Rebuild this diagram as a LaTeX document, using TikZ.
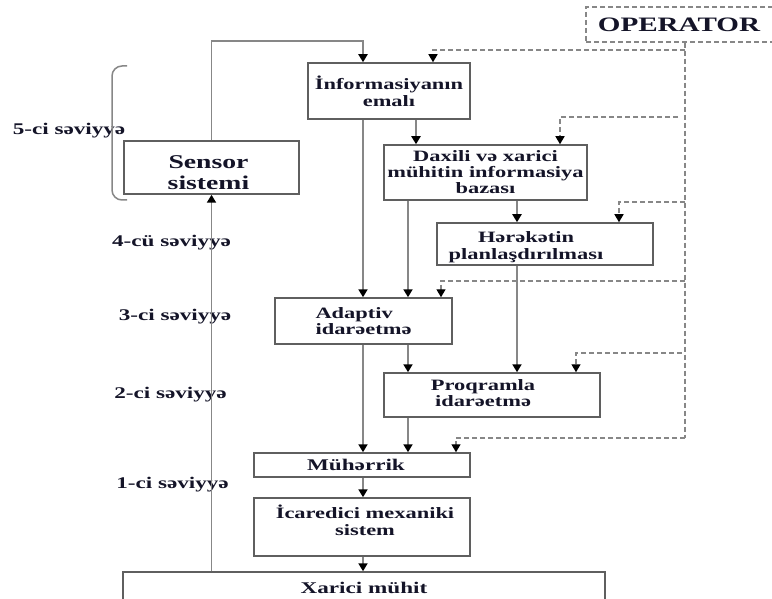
\documentclass[tikz,border=0pt]{standalone}
\usepackage{fontspec}
\setmainfont{Liberation Serif}[FakeStretch=1.42]
\usetikzlibrary{arrows.meta}
\definecolor{ink}{RGB}{20,20,40}
\definecolor{boxc}{RGB}{95,95,95}
\definecolor{linec}{RGB}{135,135,135}
\begin{document}
\begin{tikzpicture}[x=1pt,y=-1pt,
  tf/.style={font=\bfseries\fontsize{15.8}{16.8}\selectfont},
  box/.style={draw=boxc, line width=1.5pt, inner sep=0pt, text=ink, tf, align=center},
  txt/.style={text=ink, tf, align=center, inner sep=0pt},
  lvl/.style={text=ink, font=\bfseries\fontsize{16.3}{17}\selectfont, inner sep=0pt},
  tip/.style={-{Triangle[length=8pt,width=9pt,color=black]}},
  conn/.style={draw=linec, line width=1.8pt, tip},
  dsh/.style={draw=linec, line width=1.4pt, dash pattern=on 5pt off 3pt},
  dsharr/.style={dsh, tip}]
\useasboundingbox (0,0) rectangle (772,599);
\clip (0,0) rectangle (772,599);

% columns / helper coordinates
\coordinate (c363) at (363,0);
\coordinate (c408) at (408,0);
\coordinate (c416) at (416,0);
\coordinate (c517) at (517,0);
\coordinate (c433) at (433,0);
\coordinate (c560) at (560,0);
\coordinate (c619) at (619,0);
\coordinate (c441) at (441,0);
\coordinate (c576) at (576,0);
\coordinate (c456) at (456,0);
\coordinate (c685) at (685,0);
\coordinate (top41) at (0,41);

% boxes
\node[box, draw=linec, line width=1.4pt, dash pattern=on 5pt off 3pt, minimum width=200pt, minimum height=35pt,
  label={[text=ink, inner sep=0pt, font=\bfseries\fontsize{20.5}{22}\selectfont, xshift=-7pt]center:OPERATOR}]
  (operator) at (686,24.5) {};
\node[box, minimum width=162pt, minimum height=56pt] (info) at (389,91) {İnformasiyanın\\emalı};
\node[box, minimum width=175pt, minimum height=53pt,
  label={[txt, font=\bfseries\fontsize{19.5}{20.5}\selectfont, xshift=-3pt, yshift=-5pt]center:{Sensor\\sistemi}}]
  (sensor) at (211.5,167.5) {};
\node[box, minimum width=203pt, minimum height=55pt, font=\bfseries\fontsize{15.8}{16}\selectfont]
  (daxili) at (485.5,172.5) {Daxili və xarici\\mühitin informasiya\\bazası};
\node[box, minimum width=216pt, minimum height=42pt,
  label={[txt, xshift=-19pt, yshift=-3pt]center:{Hərəkətin\\planlaşdırılması}}]
  (herek) at (545,244) {};
\node[box, minimum width=177pt, minimum height=46pt, align=left] (adaptiv) at (363.5,321) {Adaptiv\\idarəetmə};
\node[box, minimum width=216pt, minimum height=44pt,
  label={[txt, xshift=-9pt, yshift=2pt]center:{Proqramla\\idarəetmə}}]
  (proq) at (492,395) {};
\node[box, minimum width=216pt, minimum height=24pt, font=\bfseries\fontsize{16.3}{17}\selectfont]
  (muh) at (362,465) {\hspace*{-12pt}Mühərrik};
\node[box, minimum width=216pt, minimum height=58pt,
  label={[txt, xshift=3pt, yshift=7pt]center:{İcaredici mexaniki\\sistem}}]
  (icar) at (362,527) {};
\node[box, minimum width=482pt, minimum height=32pt, font=\bfseries\fontsize{16.3}{17}\selectfont]
  (xarici) at (364,588) {Xarici mühit};

% level labels
\node[lvl] (lv5) at (69,131) {5-ci səviyyə};
\node[lvl] (lv4) at (171.5,243) {4-cü səviyyə};
\node[lvl] (lv3) at (175,317) {3-ci səviyyə};
\node[lvl] (lv2) at (170.5,395) {2-ci səviyyə};
\node[lvl] (lv1) at (172.5,485) {1-ci səviyyə};

% brace
\draw[draw=linec, line width=1.5pt, rounded corners=10pt] (127,66) -- (112,66) -- (112,200) -- (127,200);

% solid connectors
\draw[conn] (xarici.north -| sensor.south) -- (sensor.south);
\draw[conn] (sensor.north) -- (sensor.north |- top41) -| (info.north -| c363);
\draw[conn] (info.south -| c363) -- (adaptiv.north -| c363);
\draw[conn] (info.south -| c416) -- (daxili.north -| c416);
\draw[conn] (daxili.south -| c408) -- (adaptiv.north -| c408);
\draw[conn] (daxili.south -| c517) -- (herek.north -| c517);
\draw[conn] (herek.south -| c517) -- (proq.north -| c517);
\draw[conn] (adaptiv.south -| c408) -- (proq.north -| c408);
\draw[conn] (adaptiv.south -| c363) -- (muh.north -| c363);
\draw[conn] (proq.south -| c408) -- (muh.north -| c408);
\draw[conn] (muh.south -| c363) -- (icar.north -| c363);
\draw[conn] (icar.south -| c363) -- (xarici.north -| c363);

% dashed operator lines
\coordinate (d1) at (685,50);
\coordinate (d2) at (678,117);
\coordinate (d3) at (685,202);
\coordinate (d4) at (685,281);
\coordinate (d5) at (682,353);
\coordinate (d6) at (685,438);
\draw[dsh] (operator.south -| c685) -- (d6);
\draw[dsharr] (d1) -| (info.north -| c433);
\draw[dsharr] (d2) -| (daxili.north -| c560);
\draw[dsharr] (d3) -| (herek.north -| c619);
\draw[dsharr] (d4) -| (adaptiv.north -| c441);
\draw[dsharr] (d5) -| (proq.north -| c576);
\draw[dsharr] (d6) -| (muh.north -| c456);
\end{tikzpicture}
\end{document}
